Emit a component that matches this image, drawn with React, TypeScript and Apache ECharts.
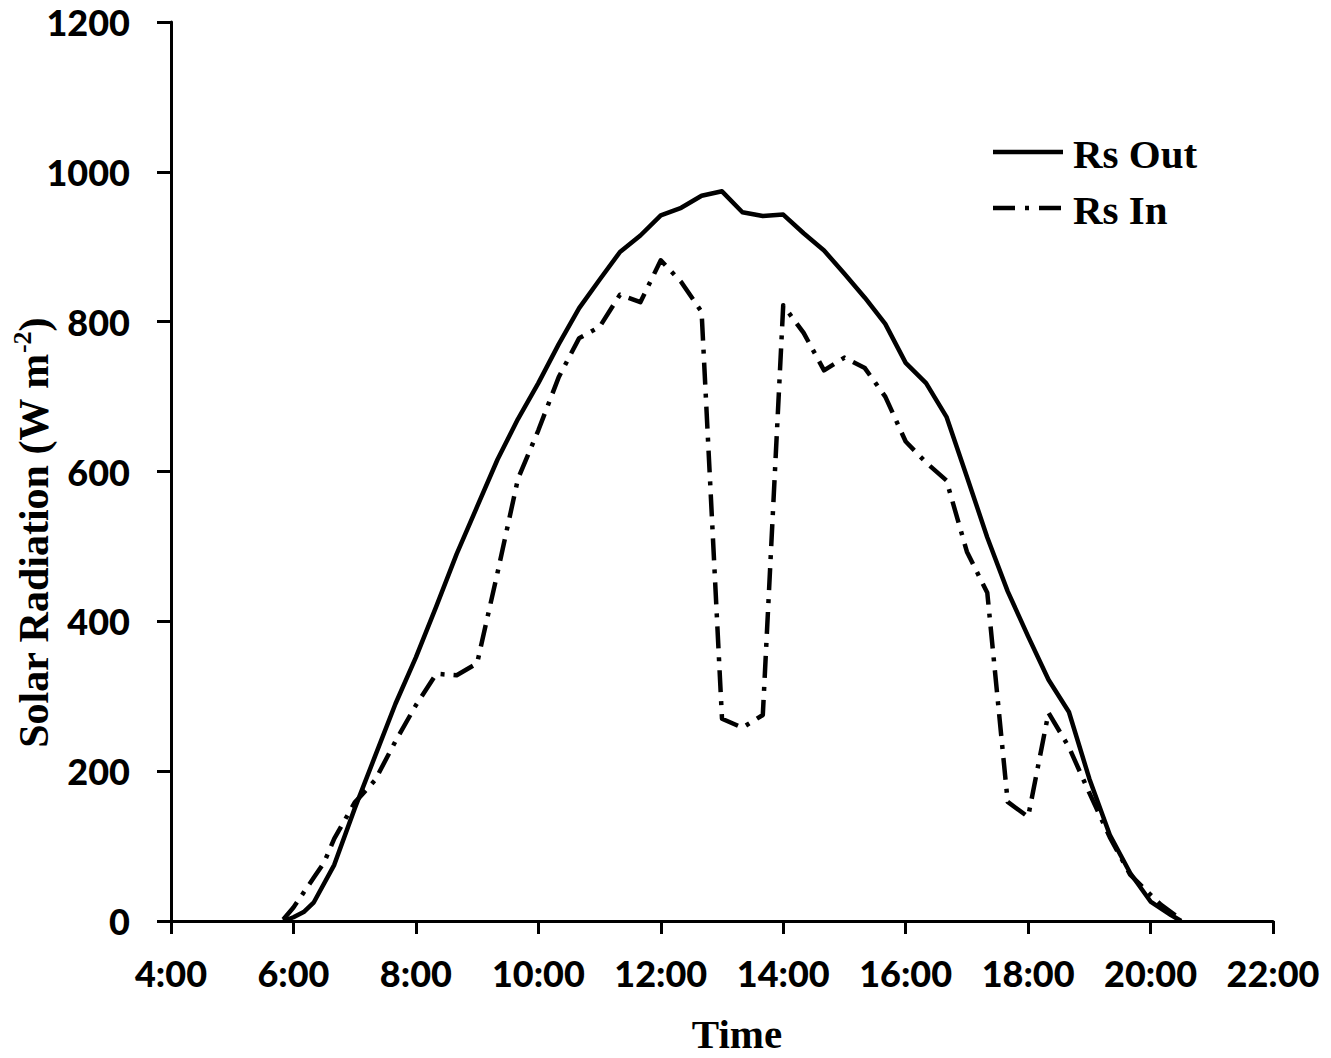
import React, { useEffect, useRef } from "react";
import * as echarts from "echarts";

// Time stamps (hh:mm) and values, W m-2
const outTimes = ["5:50","6:00","6:10","6:20","6:40","7:00","7:20","7:40","8:00","8:20","8:40","9:00","9:20","9:40","10:00","10:20","10:40","11:00","11:20","11:40","12:00","12:20","12:40","13:00","13:20","13:40","14:00","14:20","14:40","15:00","15:20","15:40","16:00","16:20","16:40","17:00","17:20","17:40","18:00","18:20","18:40","19:00","19:20","19:40","20:00","20:20","20:30"];
const outValues = [0,5,12,25,75,150,220,290,352,420,490,553,616,670,718,770,818,856,893,915,942,952,968,974,946,941,943,918,895,864,832,797,745,718,673,593,512,440,380,322,279,190,115,64,26,8,0];

const inTimes = ["5:50","6:00","6:10","6:20","6:30","6:40","7:00","7:20","7:40","8:00","8:20","8:40","9:00","9:20","9:40","10:00","10:20","10:40","11:00","11:20","11:40","12:00","12:20","12:40","13:00","13:20","13:40","14:00","14:20","14:40","15:00","15:20","15:40","16:00","16:20","16:40","17:00","17:20","17:40","18:00","18:20","18:40","19:00","19:20","19:40","20:00","20:10","20:20","20:30"];
const inValues = [2,18,38,58,78,110,158,188,240,288,330,328,344,465,590,655,726,778,793,836,826,882,853,813,270,258,275,822,785,735,752,738,700,640,612,588,493,438,159,139,278,232,171,112,62,35,22,12,2];

const xTicks = [4, 6, 8, 10, 12, 14, 16, 18, 20, 22];
const yTicks = [0, 200, 400, 600, 800, 1000, 1200];

const seriesNames = ["Rs Out", "Rs In"];

const toHours = (t: string) => {
  const [h, m] = t.split(":").map(Number);
  return h + m / 60;
};

export default function App() {
  const ref = useRef<HTMLDivElement>(null);
  useEffect(() => {
    if (!ref.current) return;
    const chart = echarts.init(ref.current, null, { renderer: "svg" });
    const tickFont = { fontFamily: "Lato", fontWeight: 900, fontSize: 36, color: "#000" };
    const serif = "'Liberation Serif', 'Times New Roman', serif";
    chart.setOption({
      animation: false,
      backgroundColor: "#fff",
      grid: { left: 171, right: 58, top: 22, bottom: 137, containLabel: false },
      xAxis: {
        type: "value",
        min: xTicks[0],
        max: xTicks[xTicks.length - 1],
        interval: 2,
        axisLine: { lineStyle: { color: "#000", width: 3 } },
        axisTick: { show: true, length: 13, lineStyle: { color: "#000", width: 3 } },
        axisLabel: { ...tickFont, margin: 34, formatter: (v: number) => `${v}:00` },
        splitLine: { show: false },
      },
      yAxis: {
        type: "value",
        min: yTicks[0],
        max: yTicks[yTicks.length - 1],
        interval: 200,
        axisLine: { show: true, lineStyle: { color: "#000", width: 3 } },
        axisTick: { show: true, length: 14, lineStyle: { color: "#000", width: 3 } },
        axisLabel: { ...tickFont, margin: 41, formatter: (v: number) => String(v) },
        splitLine: { show: false },
      },
      series: [
        {
          name: seriesNames[0],
          type: "line",
          data: outTimes.map((t, i) => [toHours(t), outValues[i]]),
          showSymbol: false,
          lineStyle: { color: "#000", width: 4.5, type: "solid", join: "round" },
        },
        {
          name: seriesNames[1],
          type: "line",
          data: inTimes.map((t, i) => [toHours(t), inValues[i]]),
          showSymbol: false,
          lineStyle: { color: "#000", width: 4.5, type: [22, 9, 4, 9], cap: "butt", join: "round" },
        },
      ],
      graphic: [
        {
          type: "text",
          x: 32,
          y: 533,
          rotation: Math.PI / 2,
          style: {
            text: "{a|Solar Radiation (W m}{b|-2}{a|)}",
            align: "center",
            verticalAlign: "middle",
            rich: {
              a: { fontFamily: serif, fontWeight: "bold", fontSize: 42, lineHeight: 46, fill: "#000", verticalAlign: "bottom" },
              b: { fontFamily: serif, fontWeight: "bold", fontSize: 26, lineHeight: 26, fill: "#000", verticalAlign: "top" },
            },
          },
        },
        {
          type: "text",
          x: 737,
          y: 1034,
          style: { text: "Time", font: `bold 41px ${serif}`, fill: "#000", align: "center", verticalAlign: "middle" },
        },
        {
          type: "line",
          shape: { x1: 993, y1: 152, x2: 1063, y2: 152 },
          style: { stroke: "#000", lineWidth: 4.5 },
        },
        {
          type: "line",
          shape: { x1: 993, y1: 208, x2: 1063, y2: 208 },
          style: { stroke: "#000", lineWidth: 4.5, lineDash: [22, 10, 4, 10] },
        },
        {
          type: "text",
          x: 1073,
          y: 154,
          style: { text: seriesNames[0], font: `bold 41px ${serif}`, fill: "#000", align: "left", verticalAlign: "middle" },
        },
        {
          type: "text",
          x: 1073,
          y: 210,
          style: { text: seriesNames[1], font: `bold 41px ${serif}`, fill: "#000", align: "left", verticalAlign: "middle" },
        },
      ],
    });
    return () => chart.dispose();
  }, []);
  return <div ref={ref} style={{ position: "fixed", left: 0, top: 0, width: 1331, height: 1058 }} />;
}
